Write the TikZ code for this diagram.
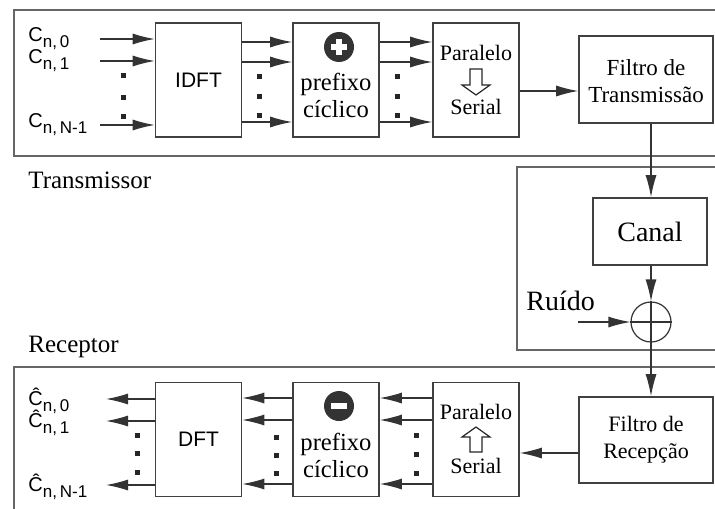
\documentclass[tikz,border=0pt]{standalone}
\usepackage{fontspec}
\setmainfont{Liberation Serif}
\setsansfont{Liberation Sans}
\usetikzlibrary{arrows.meta, calc}

\begin{document}
\begin{tikzpicture}[x=0.5pt, y=-0.5pt,
    line/.style={draw=black!80, line width=0.6pt},
    arr/.style={line, -{Latex[length=11pt, width=5.5pt]}},
    blk/.style={draw=black!75, line width=0.8pt, inner sep=0pt,
        minimum width=43pt, minimum height=57pt},
    frame/.style={draw=black!60, line width=1pt},
    serif/.style={font=\fontsize{11pt}{13.5pt}\selectfont, align=center, inner sep=0pt},
    sans/.style={font=\sffamily\fontsize{10.5pt}{12pt}\selectfont, inner sep=0pt},
    sym/.style={font=\sffamily\fontsize{10pt}{11pt}\selectfont, inner sep=0pt, anchor=west},
    hollow/.style={draw=black!85, fill=white, line width=0.6pt, line join=miter}]
    \clip (0,0) rectangle (715,508);
    \fill[white] (0,0) rectangle (715,508);
    % Define the subscript shape of the symbols
    \newcommand{\symb}[2]{#1\raisebox{-0.55ex}{\fontsize{8.5pt}{9pt}\selectfont #2}}

    % Transmissor
    \draw[frame] (14,10) rectangle (730,156);
    \node[serif, font=\fontsize{12.5pt}{14pt}\selectfont, anchor=west] (tx) at (28,180) {Transmissor};

    \node[blk] (idft) at (198.5,80) {};
    \node[sans] at (idft) {IDFT};
    \node[blk] (pc1) at (336,80) {};
    \node[serif, font=\fontsize{12.3pt}{13.5pt}\selectfont] at (336,95.5) {prefixo\\cíclico};
    \node[blk] (ps1) at (476,80) {};
    \node[serif] (par1) at (476,53) {Paralelo};
    \node[serif] (ser1) at (476,107) {Serial};
    \draw[hollow] (470,69) -- (482,69) -- (482,85) -- (490,85) -- (476,95)
        -- (462,85) -- (470,85) -- cycle;
    \node[blk, minimum width=67pt, minimum height=43.5pt] (ftx) at (646,79.5) {};
    \node[serif, font=\fontsize{11.5pt}{13.5pt}\selectfont] at (646,81.5) {Filtro de\\Transmissão};

    % plus icon
    \fill[black!80] (339,47) circle (7.5pt);
    \draw[white, line width=2.6pt] (331,47) -- (347,47) (339,39) -- (339,55);

    % inputs
    \node[sym] (c0) at (28,39) {\symb{C}{n,\,0}};
    \node[sym] (c1) at (28,61) {\symb{C}{n,\,1}};
    \node[sym] (cn) at (28,125) {\symb{C}{n,\,N-1}};
    \foreach \y in {39,61,125}
        \draw[arr] (100,\y) -- (idft.west |- 0,\y);
    \foreach \y in {42,62,122} {
        \draw[arr] (idft.east |- 0,\y) -- (pc1.west |- 0,\y);
        \draw[arr] (pc1.east |- 0,\y) -- (ps1.west |- 0,\y);
    }
    \draw[arr] (ps1.east |- 0,91) -- (ftx.west |- 0,91);
    \foreach \x/\y in {123/76,123/97,123/116,259/77,259/96,259/115,397/77,397/96,397/115}
        \fill[black!85] (\x-2.5,\y-2.5) rectangle (\x+2.5,\y+2.5);

    % Canal
    \draw[frame] (517,167) rectangle (730,350);
    \node[blk, minimum width=57pt, minimum height=33.5pt] (canal) at (650,231.5) {};
    \node[serif, font=\fontsize{14pt}{16pt}\selectfont] at (canal) {Canal};
    \node[circle, draw=black!80, line width=0.6pt, minimum size=20pt, inner sep=0pt] (sum) at (651,322) {};
    \draw[line] (sum.north) -- (sum.south) (sum.west) -- (sum.east);
    \node[serif, font=\fontsize{14pt}{16pt}\selectfont, anchor=west] (ruido) at (526,301) {Ruído};
    \coordinate (rin) at (578,322);
    \draw[arr] (rin) -- (sum.west);
    \draw[arr] (ftx.south -| sum) -- (canal.north -| sum);
    \draw[arr] (canal.south -| sum) -- (sum.north);

    % Receptor
    \draw[frame] (14,367) rectangle (730,530);
    \node[serif, font=\fontsize{12.5pt}{14pt}\selectfont, anchor=west] (rx) at (28,347) {Receptor};

    \node[blk, minimum width=67pt, minimum height=43pt] (frx) at (646,440) {};
    \node[serif] at (646,440) {Filtro de\\Recepção};
    \draw[arr] (sum.south) -- (frx.north -| sum);
    \node[blk] (ps2) at (476,439.5) {};
    \node[serif] (par2) at (476,412) {Paralelo};
    \node[serif] (ser2) at (476,466) {Serial};
    \draw[hollow] (470,452) -- (482,452) -- (482,437) -- (490,437) -- (476,427)
        -- (462,437) -- (470,437) -- cycle;
    \node[blk] (pc2) at (336,439.5) {};
    \node[serif, font=\fontsize{12.3pt}{13.5pt}\selectfont] at (336,455) {prefixo\\cíclico};
    \node[blk] (dft) at (198.5,439.5) {};
    \node[sans] at (dft) {DFT};

    % minus icon
    \fill[black!80] (339,406) circle (7.5pt);
    \draw[white, line width=2.6pt] (331,406) -- (347,406);

    \draw[arr] (frx.west |- 0,453) -- (ps2.east |- 0,453);
    \foreach \y in {398,420,484} {
        \draw[arr] (ps2.west |- 0,\y) -- (pc2.east |- 0,\y);
        \draw[arr] (pc2.west |- 0,\y) -- (dft.east |- 0,\y);
    }
    \foreach \y in {399,421,485}
        \draw[arr] (dft.west |- 0,\y) -- (106,\y);
    \node[sym] (d0) at (28,401) {\symb{Ĉ}{n,\,0}};
    \node[sym] (d1) at (28,423) {\symb{Ĉ}{n,\,1}};
    \node[sym] (dn) at (28,487) {\symb{Ĉ}{n,\,N-1}};
    \foreach \x/\y in {137/435,137/453,137/472,276/437,276/455,276/473,416/435,416/454,416/473}
        \fill[black!85] (\x-2.5,\y-2.5) rectangle (\x+2.5,\y+2.5);
\end{tikzpicture}
\end{document}
